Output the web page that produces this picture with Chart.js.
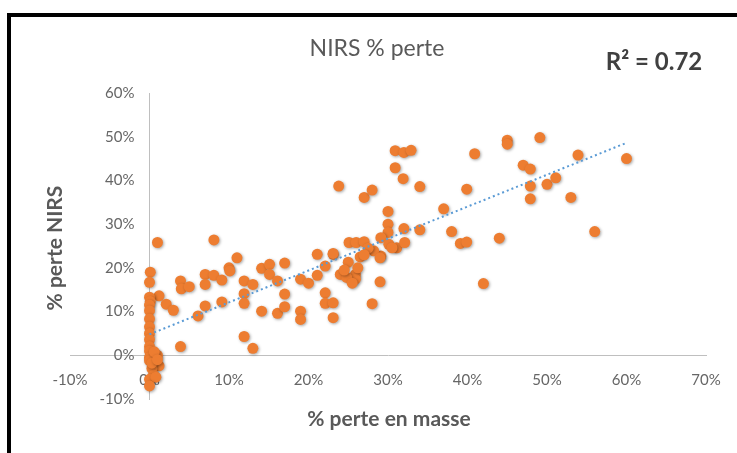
<!DOCTYPE html>
<html>
<head>
<meta charset="utf-8">
<script src="https://cdn.jsdelivr.net/npm/chart.js@4/dist/chart.umd.min.js"></script>
<style>
  html, body { margin: 0; padding: 0; background: #fff; }
  body { width: 737px; height: 453px; position: relative; overflow: hidden; }
  #frame { position: absolute; left: 7px; top: 13px; width: 800px; height: 500px;
           border-top: 4px solid #000; border-left: 4px solid #000; }
  #wrap { position: absolute; left: 0; top: 0; width: 737px; height: 453px; }
</style>
</head>
<body>
<div id="frame"></div>
<div id="wrap"><canvas id="chart" width="737" height="453"></canvas></div>
<script>
// % perte en masse (x) and % perte NIRS (y), one entry per sample
const massLoss = [
  0.1, 0, 1.2, 0, 0.1, 0, 2.1, 3.0, 0, 0, 0, 0, 0, 0, 0, 1, 0, 0, 1.2, 0.3, 0.5, 0, 0.8, 0, 1, 0.6, 0.3, 1,
  3.9, 4, 5, 3.9, 6.1, 7, 8.1, 7, 7, 9.1, 9.1, 10, 10.1, 11, 11.9, 11.9, 11.9, 11.9, 13, 13, 14.1, 14.1,
  15.1, 15.1, 16.1, 16.1, 17, 17, 17, 19, 19, 19, 20, 21.1, 21.1, 22.1, 22.1, 22.1, 23.1, 23.1, 23.1, 8.1,
  23.8, 27, 28, 30.9, 32, 32.9, 30.9, 31.9, 34, 30, 30, 30, 32, 34, 29.1, 29.1, 30.1, 31.1, 32.1, 25.1,
  26, 27, 23.1, 25, 24, 25.9, 28.2, 29, 30.5, 29, 28, 25.9, 24.8, 26.5, 27.5, 26.2, 24.5, 25.5, 27,
  37, 38, 39.1, 39.9, 39.9, 40.9, 42, 44, 45, 45, 49.1, 47, 47.9, 47.9, 47.9, 50, 51.1, 53, 53.9, 56, 60
];
const nirsLoss = [
  19, 16.7, 13.6, 13.3, 12.3, 11.5, 11.7, 10.3, 10.2, 8.3, 6.5, 5, 3.6, 2, 1, 0, -0.5, -1.2, -2.4, -3, -4.5, -5.5, -5, -7, 25.8, 0.8, -1.8, -1,
  17, 15.2, 15.7, 2, 9, 18.5, 18.3, 16.2, 11.3, 17.2, 12.2, 20, 19.3, 22.3, 17, 14.1, 11.9, 4.3, 16.2, 1.6, 10.1, 19.9,
  20.8, 18.5, 17, 9.6, 21.1, 14, 11.1, 17.4, 10.1, 8.2, 16.5, 23.1, 18.3, 20.4, 14.3, 11.9, 23.1, 12, 8.6, 26.4,
  38.7, 36.1, 37.8, 46.8, 46.4, 46.9, 42.9, 40.4, 38.6, 32.9, 30, 28.1, 29, 28.7, 26.9, 22.7, 25.4, 24.6, 25.8, 25.8,
  25.8, 26, 23.3, 21.3, 18.5, 18.5, 23.9, 22.3, 24.6, 16.8, 11.8, 17.4, 17.8, 22.5, 24.5, 20, 19.5, 16.5, 23,
  33.5, 28.3, 25.6, 25.9, 38, 46.1, 16.4, 26.8, 49.2, 48.3, 49.8, 43.5, 42.6, 38.7, 35.8, 39.1, 40.6, 36.1, 45.8, 28.3, 45
];
// linear trend line end points
const trendMass = [0, 60];
const trendNirs = [4.8, 48.6];

const chartTitle = 'NIRS % perte';
const rSquaredLabel = 'R\u00B2 = 0.72';
const xAxisTitle = '% perte en masse';
const yAxisTitle = '% perte NIRS';

const points = massLoss.map((x, i) => ({ x: x, y: nirsLoss[i] }));
const trend = trendMass.map((x, i) => ({ x: x, y: trendNirs[i] }));

const GREY = '#595959';
const TICK_GREY = '#666666';
const FONT = 'Lato, "Open Sans", sans-serif';
const TICK_FONT = '15px ' + FONT;

const pct = v => v + '%';

// soft drop shadow under the markers
const markerShadow = {
  id: 'markerShadow',
  beforeDatasetDraw(chart, args) {
    if (args.index !== 0) return;
    const ctx = chart.ctx;
    ctx.save();
    ctx.shadowColor = 'rgba(0,0,0,0.35)';
    ctx.shadowBlur = 3;
    ctx.shadowOffsetX = 1;
    ctx.shadowOffsetY = 1;
  },
  afterDatasetDraw(chart, args) {
    if (args.index !== 0) return;
    chart.ctx.restore();
  }
};

// y tick labels set off to the left of the vertical axis at x = 0,
// plus chart title, R² annotation and axis titles
const textLayer = {
  id: 'textLayer',
  afterDraw(chart) {
    const ctx = chart.ctx;
    const xs = chart.scales.x, ys = chart.scales.y;
    ctx.save();
    ctx.fillStyle = TICK_GREY;
    ctx.font = TICK_FONT;
    ctx.textAlign = 'right';
    ctx.textBaseline = 'middle';
    const axisX = xs.getPixelForValue(0);
    ys.ticks.forEach(t => {
      ctx.fillText(pct(t.value), axisX - 15, ys.getPixelForValue(t.value));
    });

    ctx.fillStyle = GREY;
    ctx.textAlign = 'center';
    ctx.font = '23px ' + FONT;
    ctx.fillText(chartTitle, 377, 49);
    ctx.font = 'bold 24px ' + FONT;
    ctx.fillStyle = '#404040';
    ctx.fillText(rSquaredLabel, 654, 62);
    ctx.fillStyle = GREY;
    ctx.font = 'bold 21px ' + FONT;
    ctx.fillText(xAxisTitle, 389, 419);
    ctx.translate(55, 248);
    ctx.rotate(-Math.PI / 2);
    ctx.fillText(yAxisTitle, 0, 0);
    ctx.restore();
  }
};

new Chart(document.getElementById('chart'), {
  type: 'scatter',
  data: {
    datasets: [
      {
        label: 'NIRS',
        data: points,
        backgroundColor: '#ED7D31',
        borderColor: '#ED7D31',
        pointRadius: 5.5,
        pointBorderWidth: 0,
        order: 1
      },
      {
        label: 'Tendance',
        data: trend,
        showLine: true,
        borderColor: '#5B9BD5',
        borderWidth: 2,
        borderDash: [2, 3],
        pointRadius: 0,
        fill: false,
        order: 0
      }
    ]
  },
  plugins: [markerShadow, textLayer],
  options: {
    responsive: false,
    animation: false,
    layout: { padding: { left: 70, right: 31, top: 93, bottom: 54 } },
    plugins: {
      legend: { display: false },
      title: { display: false },
      tooltip: { enabled: false }
    },
    scales: {
      x: {
        type: 'linear',
        min: -10,
        max: 70,
        position: { y: 0 },
        grid: { display: false, drawTicks: false },
        border: { color: '#BFBFBF', width: 1 },
        ticks: { stepSize: 10, callback: pct, color: TICK_GREY, padding: 16, font: { family: FONT, size: 15 } }
      },
      y: {
        type: 'linear',
        min: -10,
        max: 60,
        position: { x: 0 },
        grid: { display: false, drawTicks: false },
        border: { color: '#BFBFBF', width: 1 },
        ticks: { stepSize: 10, display: false }
      }
    }
  }
});
</script>
</body>
</html>
